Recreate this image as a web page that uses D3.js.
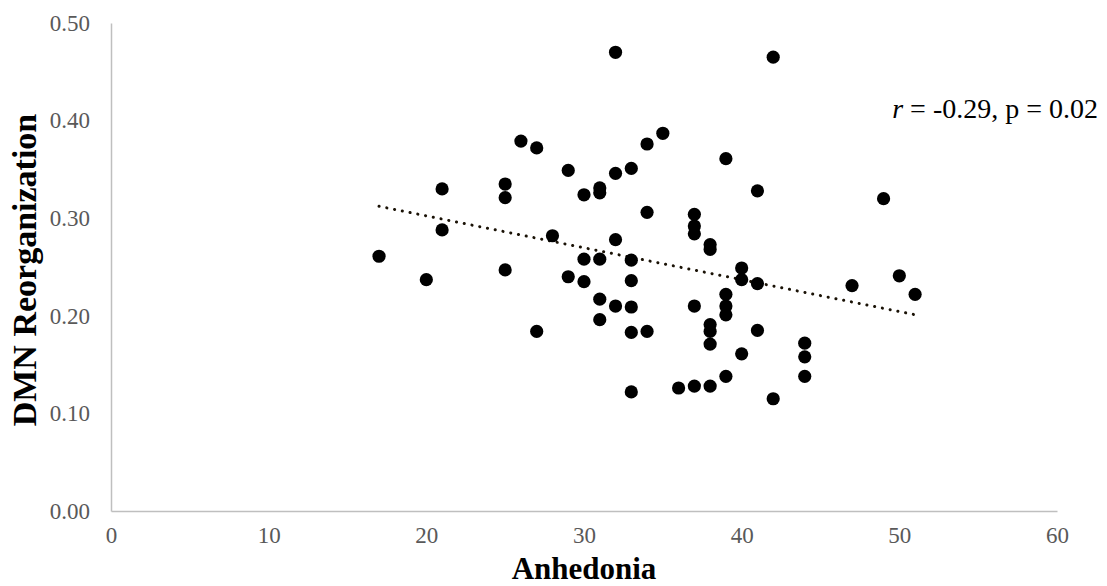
<!DOCTYPE html>
<html>
<head>
<meta charset="utf-8">
<script src="https://cdn.jsdelivr.net/npm/d3@7"></script>
<style>
  body { margin: 0; background: #fff; }
</style>
</head>
<body>
<div id="chart-area"></div>
<script>
// anhedonia score (x) and DMN reorganization (y), one entry per subject
let anhedonia = [
  17, 20, 21, 21, 25, 25, 25, 26, 27, 27, 28, 29, 29,
  30, 30, 30, 31, 31, 31, 31, 31, 32, 32, 32, 32,
  33, 33, 33, 33, 33, 33, 34, 34, 34, 35, 36,
  37, 37, 37, 37, 37, 38, 38, 38, 38, 38, 38,
  39, 39, 39, 39, 39, 40, 40, 40, 41, 41, 41, 42, 42,
  44, 44, 44, 47, 49, 50, 51
]
let dmn = [
  0.261, 0.237, 0.330, 0.288, 0.335, 0.321, 0.247, 0.379, 0.372, 0.184, 0.282, 0.349, 0.240,
  0.324, 0.258, 0.235, 0.331, 0.326, 0.258, 0.217, 0.196, 0.470, 0.346, 0.278, 0.210,
  0.351, 0.257, 0.236, 0.209, 0.183, 0.122, 0.376, 0.306, 0.184, 0.387, 0.126,
  0.304, 0.292, 0.284, 0.210, 0.128, 0.273, 0.268, 0.191, 0.184, 0.171, 0.128,
  0.361, 0.222, 0.210, 0.201, 0.138, 0.249, 0.237, 0.161, 0.328, 0.233, 0.185, 0.465, 0.115,
  0.172, 0.158, 0.138, 0.231, 0.320, 0.241, 0.222
]
let xTicks = [0, 10, 20, 30, 40, 50, 60]
let yTicks = [0, 0.1, 0.2, 0.3, 0.4, 0.5]
let stats = ["-0.29", "0.02"]

let data = anhedonia.map((a, i) => ({ x: a, y: dmn[i] }))

let margin = {
  left: 111,
  right: 50,
  top: 23,
  bottom: 75
}

let svgW = 1107;
let svgH = 586;

let chartW = svgW - margin.left - margin.right;
let chartH = svgH - margin.top - margin.bottom;

const serif = '"Liberation Serif", "Times New Roman", serif'

let x = d3.scaleLinear()
  .domain([0, 60])
  .range([0, chartW])

let y = d3.scaleLinear()
  .domain([0, 0.5])
  .range([chartH, 0])

let svg = d3.select("#chart-area")
  .append("svg")
  .attr("width", svgW)
  .attr("height", svgH)

let group = svg.append('g')
  .attr("transform", `translate(${margin.left},${margin.top})`)

let groupX = group.append("g")
  .attr("transform", `translate(0, ${chartH})`)
  .call(d3.axisBottom(x).tickValues(xTicks).tickSize(0).tickPadding(16))

let groupY = group.append("g")
  .call(d3.axisLeft(y).tickValues(yTicks).tickSize(0).tickPadding(21).tickFormat(d3.format(".2f")))

// axis styling
group.selectAll(".domain")
  .attr("stroke", "#bfbfbf")
  .attr("stroke-width", 1.5)

group.selectAll(".tick text")
  .attr("font-family", serif)
  .attr("font-size", 23)
  .attr("fill", "#595959")

// least squares trend line
let mx = d3.mean(data, d => d.x)
let my = d3.mean(data, d => d.y)
let slope = d3.sum(data, d => (d.x - mx) * (d.y - my)) / d3.sum(data, d => (d.x - mx) ** 2)
let [x0, x1] = d3.extent(data, d => d.x)
let trend = [x0, x1].map(v => ({ x: v, y: my + slope * (v - mx) }))

group.append("path")
  .datum(trend)
  .attr("d", d3.line().x(d => x(d.x)).y(d => y(d.y)))
  .attr("fill", "none")
  .attr("stroke", "#1a1206")
  .attr("stroke-width", 3)
  .attr("stroke-linecap", "round")
  .attr("stroke-dasharray", "0.1 7.8")

group.selectAll("circle")
  .data(data)
  .enter()
  .append("circle")
  .attr("cx", d => x(d.x))
  .attr("cy", d => y(d.y))
  .attr("r", 6.6)
  .attr("fill", "#000")

// annotation
let note = svg.append("text")
  .attr("x", 1098)
  .attr("y", 118)
  .attr("text-anchor", "end")
  .attr("font-family", serif)
  .attr("font-size", 28)
  .attr("fill", "#000")

note.append("tspan").attr("font-style", "italic").text("r")
note.append("tspan").text(` = ${stats[0]}, p = ${stats[1]}`)

// axis titles
svg.append("text")
  .attr("x", margin.left + chartW / 2)
  .attr("y", 579)
  .attr("text-anchor", "middle")
  .attr("font-family", serif)
  .attr("font-weight", "bold")
  .attr("font-size", 31)
  .text("Anhedonia")

svg.append("text")
  .attr("transform", "translate(36, 270) rotate(-90)")
  .attr("text-anchor", "middle")
  .attr("font-family", serif)
  .attr("font-weight", "bold")
  .attr("font-size", 34)
  .text("DMN Reorganization")
</script>
</body>
</html>
